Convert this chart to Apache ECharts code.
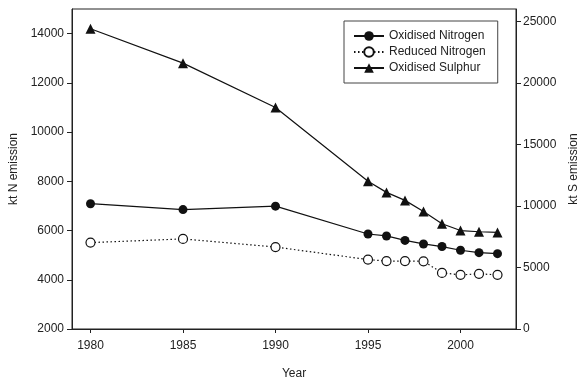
<!DOCTYPE html>
<html>
<head>
<meta charset="utf-8">
<script src="https://cdn.jsdelivr.net/npm/echarts@6/dist/echarts.min.js"></script>
<style>
html,body{margin:0;padding:0;background:#fff;}
#chart{width:580px;height:382px;}
</style>
</head>
<body>
<div id="chart"></div>
<script>
const years = [1980, 1985, 1990, 1995, 1996, 1997, 1998, 1999, 2000, 2001, 2002];
const oxidisedNitrogen = [7090, 6850, 6990, 5860, 5780, 5600, 5455, 5350, 5200, 5100, 5060];
const reducedNitrogen = [5510, 5660, 5330, 4820, 4760, 4760, 4750, 4280, 4200, 4240, 4200];
const oxidisedSulphur = [24400, 21600, 18000, 12000, 11100, 10450, 9550, 8550, 8000, 7900, 7850];
const xTicks = [1980, 1985, 1990, 1995, 2000];
const leftTicks = [2000, 4000, 6000, 8000, 10000, 12000, 14000];
const rightTicks = [0, 5000, 10000, 15000, 20000, 25000];

const pairs = (ys) => years.map((x, i) => [x, ys[i]]);
const font = 'Liberation Sans, Arial, Helvetica, sans-serif';
const txt = { color: '#222', fontFamily: font, fontSize: 12 };
const plain = (v) => String(Math.round(v));

const chart = echarts.init(document.getElementById('chart'), null, { renderer: 'canvas' });
chart.setOption({
  animation: false,
  backgroundColor: '#fff',
  grid: { left: 72, right: 64, top: 9, bottom: 53, outerBoundsMode: 'none', containLabel: false,
          show: true, borderColor: '#222', borderWidth: 1, backgroundColor: 'transparent' },
  legend: {
    left: 344, top: 21, orient: 'vertical',
    itemWidth: 30, itemHeight: 12, itemGap: 4,
    padding: [9, 12, 9, 9],
    borderColor: '#444', borderWidth: 1,
    textStyle: txt,
    data: ['Oxidised Nitrogen', 'Reduced Nitrogen', 'Oxidised Sulphur']
  },
  xAxis: {
    type: 'value', min: 1979, max: 2003,
    name: 'Year', nameLocation: 'middle', nameGap: 39, nameTextStyle: txt,
    axisLine: { onZero: false, lineStyle: { color: '#222' } },
    axisTick: { customValues: xTicks, length: 4, lineStyle: { color: '#222' } },
    axisLabel: Object.assign({ customValues: xTicks, margin: 11, formatter: plain }, txt),
    splitLine: { show: false }
  },
  yAxis: [
    {
      type: 'value', min: 2000, max: 15000, position: 'left',
      name: 'kt N emission', nameLocation: 'middle', nameGap: 48, nameTextStyle: txt,
      axisLine: { show: true, lineStyle: { color: '#222' } },
      axisTick: { show: true, customValues: leftTicks, length: 5, lineStyle: { color: '#222' } },
      axisLabel: Object.assign({ customValues: leftTicks, margin: 8, formatter: plain }, txt),
      splitLine: { show: false }
    },
    {
      type: 'value', min: 0, max: 26000, position: 'right',
      name: 'kt S emission', nameLocation: 'middle', nameGap: 49, nameTextStyle: txt,
      axisLine: { show: true, lineStyle: { color: '#222' } },
      axisTick: { show: true, customValues: rightTicks, length: 5, lineStyle: { color: '#222' } },
      axisLabel: Object.assign({ customValues: rightTicks, margin: 7, formatter: plain }, txt),
      splitLine: { show: false }
    }
  ],
  series: [
    {
      name: 'Oxidised Nitrogen', type: 'line', yAxisIndex: 0, data: pairs(oxidisedNitrogen),
      symbol: 'circle', symbolSize: 9,
      itemStyle: { color: '#111' },
      lineStyle: { color: '#111', width: 1.2, type: 'solid' }
    },
    {
      name: 'Reduced Nitrogen', type: 'line', yAxisIndex: 0, data: pairs(reducedNitrogen),
      symbol: 'circle', symbolSize: 9,
      itemStyle: { color: '#fff', borderColor: '#111', borderWidth: 1.2 },
      lineStyle: { color: '#111', width: 1.2, type: [1.5, 2.5] }
    },
    {
      name: 'Oxidised Sulphur', type: 'line', yAxisIndex: 1, data: pairs(oxidisedSulphur),
      symbol: 'triangle', symbolSize: 10,
      itemStyle: { color: '#111' },
      lineStyle: { color: '#111', width: 1.2, type: 'solid' }
    }
  ]
});
</script>
</body>
</html>
